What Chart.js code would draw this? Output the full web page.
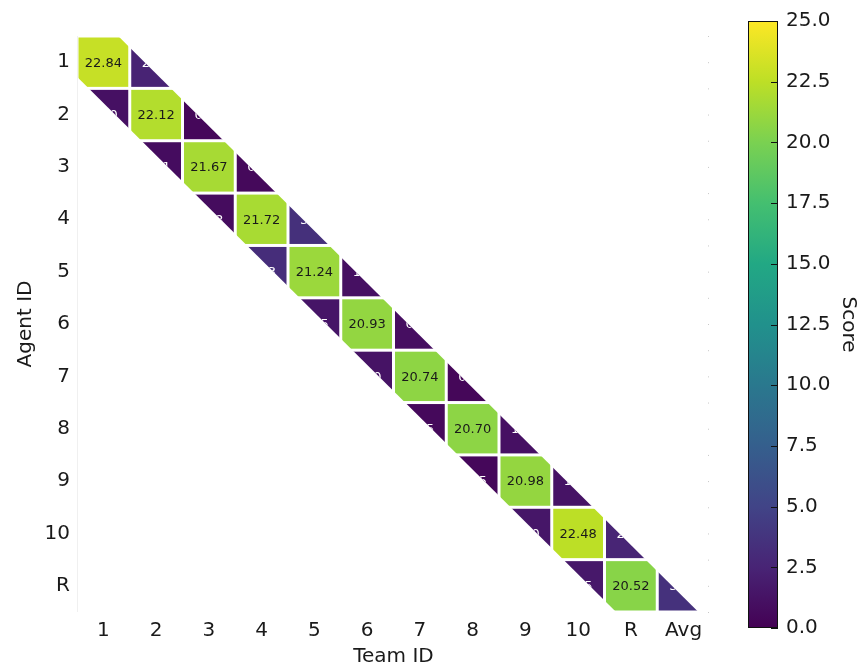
<!DOCTYPE html>
<html>
<head>
<meta charset="utf-8">
<script src="https://cdn.jsdelivr.net/npm/chart.js@4.4.1/dist/chart.umd.min.js"></script>
<style>
html, body { margin: 0; padding: 0; background: #fff; }
#wrap { position: relative; width: 862px; height: 669px; }
canvas { position: absolute; left: 0; top: 0; }
</style>
</head>
<body>
<div id="wrap">
  <canvas id="heat" width="862" height="669"></canvas>
  <canvas id="cbar" width="862" height="669"></canvas>
</div>
<script>
// tick labels
const teamLabels = ['1', '2', '3', '4', '5', '6', '7', '8', '9', '10', 'R', 'Avg'];
const agentLabels = ['1', '2', '3', '4', '5', '6', '7', '8', '9', '10', 'R'];
// agent i playing in its own team
const diagScores = [22.84, 22.12, 21.67, 21.72, 21.24, 20.93, 20.74, 20.70, 20.98, 22.48, 20.52];
// agent i in team i+1 (last one is the Avg column)
const upperScores = [2.45, 0.42, 0.55, 3.40, 1.05, 0.95, 0.40, 1.10, 1.25, 2.55, 3.50];
// agent i+1 in team i
const lowerScores = [1.10, 0.81, 0.78, 3.23, 1.45, 1.30, 0.55, 0.45, 1.50, 1.65];
const scoreTicks = [0, 2.5, 5, 7.5, 10, 12.5, 15, 17.5, 20, 22.5, 25];
const scoreMax = 25;

const viridisStops = ['#440154', '#482475', '#414487', '#355f8d', '#2a788e', '#21918c',
  '#22a884', '#44bf70', '#7ad151', '#bddf26', '#fde725'];

function hexRgb(h) {
  return [parseInt(h.slice(1, 3), 16), parseInt(h.slice(3, 5), 16), parseInt(h.slice(5, 7), 16)];
}

function viridis(t) {
  t = Math.max(0, Math.min(1, t));
  const p = t * 10;
  const i = Math.min(9, Math.floor(p));
  const f = p - i;
  const a = hexRgb(viridisStops[i]), b = hexRgb(viridisStops[i + 1]);
  const c = a.map((v, k) => Math.round(v + (b[k] - v) * f));
  return `rgb(${c[0]},${c[1]},${c[2]})`;
}

const cells = [];
diagScores.forEach((v, i) => cells.push({x: i + 1, y: i + 1, v: v}));
upperScores.forEach((v, i) => cells.push({x: i + 2, y: i + 1, v: v}));
lowerScores.forEach((v, i) => cells.push({x: i + 1, y: i + 2, v: v}));

const band = 0.78;
const gap = 1.5;
const font = 'DejaVu Sans';

const cellPlugin = {
  id: 'cells',
  afterDatasetsDraw(chart) {
    const {ctx, chartArea, scales: {x, y}} = chart;
    ctx.save();
    ctx.beginPath();
    ctx.rect(chartArea.left, chartArea.top, chartArea.width, chartArea.height);
    ctx.clip();
    // only a strip along the diagonal is shown
    ctx.beginPath();
    ctx.moveTo(x.getPixelForValue(0.5 + band), y.getPixelForValue(0.5));
    ctx.lineTo(x.getPixelForValue(11.5 + band), y.getPixelForValue(11.5));
    ctx.lineTo(x.getPixelForValue(11.5 - band), y.getPixelForValue(11.5));
    ctx.lineTo(x.getPixelForValue(0.5 - band), y.getPixelForValue(0.5));
    ctx.closePath();
    ctx.clip();
    ctx.textAlign = 'center';
    ctx.textBaseline = 'middle';
    ctx.font = `13px "${font}"`;
    chart.data.datasets[0].data.forEach(p => {
      const xa = x.getPixelForValue(p.x - 0.5), xb = x.getPixelForValue(p.x + 0.5);
      const ya = y.getPixelForValue(p.y - 0.5), yb = y.getPixelForValue(p.y + 0.5);
      const left = Math.min(xa, xb), top = Math.min(ya, yb);
      const w = Math.abs(xb - xa), h = Math.abs(yb - ya);
      ctx.fillStyle = viridis(p.v / scoreMax);
      ctx.fillRect(left + gap, top + gap, w - 2 * gap, h - 2 * gap);
      ctx.fillStyle = p.v > scoreMax / 2 ? '#1a1a1a' : '#ffffff';
      ctx.fillText(p.v.toFixed(2), left + w / 2, top + h / 2 + 1);
    });
    ctx.restore();

    // faint frame bits
    ctx.save();
    ctx.fillStyle = '#c8c8c8';
    for (let v = 0.5; v <= 11.5; v += 0.5) {
      ctx.fillRect(chartArea.right - 2, y.getPixelForValue(v), 1, 1);
    }
    ctx.strokeStyle = '#f0f0f0';
    ctx.beginPath();
    ctx.moveTo(chartArea.left + 0.5, chartArea.top);
    ctx.lineTo(chartArea.left + 0.5, chartArea.bottom);
    ctx.stroke();
    ctx.restore();
  }
};

new Chart(document.getElementById('heat'), {
  type: 'scatter',
  data: {
    datasets: [{data: cells, pointRadius: 0, pointHoverRadius: 0}]
  },
  options: {
    responsive: false,
    animation: false,
    events: [],
    layout: {padding: {left: 0, right: 152, top: 36, bottom: 0}},
    plugins: {legend: {display: false}, tooltip: {enabled: false}},
    scales: {
      x: {
        type: 'linear', min: 0.5, max: 12.5,
        afterBuildTicks: s => { s.ticks = teamLabels.map((_, i) => ({value: i + 1})); },
        afterFit: s => { s.height = 57; },
        ticks: {
          autoSkip: false, maxRotation: 0, padding: 7, color: '#1a1a1a',
          font: {family: font, size: 20},
          callback: v => teamLabels[v - 1]
        },
        grid: {display: false, drawTicks: false},
        border: {display: false},
        title: {display: true, text: 'Team ID', color: '#1a1a1a',
          font: {family: font, size: 20}, padding: {top: 0, bottom: 0}}
      },
      y: {
        type: 'linear', min: 0.5, max: 11.5, reverse: true,
        afterBuildTicks: s => { s.ticks = agentLabels.map((_, i) => ({value: i + 1})); },
        afterFit: s => { s.width = 77; },
        ticks: {
          autoSkip: false, padding: 7, color: '#1a1a1a',
          font: {family: font, size: 20},
          callback: v => agentLabels[v - 1]
        },
        grid: {display: false, drawTicks: false},
        border: {display: false},
        title: {display: true, text: 'Agent ID', color: '#1a1a1a',
          font: {family: font, size: 20}, padding: {top: 14, bottom: 0}}
      }
    }
  },
  plugins: [cellPlugin]
});

const barPlugin = {
  id: 'colorbar',
  afterDraw(chart) {
    const {ctx, chartArea: a, scales: {y}} = chart;
    const g = ctx.createLinearGradient(0, y.getPixelForValue(0), 0, y.getPixelForValue(scoreMax));
    viridisStops.forEach((c, i) => g.addColorStop(i / 10, c));
    ctx.save();
    ctx.fillStyle = g;
    ctx.fillRect(a.left, a.top, a.width, a.height);
    ctx.strokeStyle = '#111';
    ctx.lineWidth = 1;
    ctx.strokeRect(a.left + 0.5, a.top + 0.5, a.width - 1, a.height - 1);
    ctx.beginPath();
    scoreTicks.forEach(v => {
      const py = Math.round(y.getPixelForValue(v)) + 0.5;
      ctx.moveTo(a.right - 7, py);
      ctx.lineTo(a.right, py);
    });
    ctx.stroke();
    ctx.restore();
  }
};

new Chart(document.getElementById('cbar'), {
  type: 'scatter',
  data: {datasets: []},
  options: {
    responsive: false,
    animation: false,
    events: [],
    layout: {padding: {left: 748, right: 0, top: 21, bottom: 41}},
    plugins: {legend: {display: false}, tooltip: {enabled: false}},
    scales: {
      x: {display: false, min: 0, max: 1},
      y: {
        position: 'right', min: 0, max: scoreMax,
        afterBuildTicks: s => { s.ticks = scoreTicks.map(v => ({value: v})); },
        afterFit: s => { s.width = 84; },
        ticks: {
          padding: 8, color: '#1a1a1a', font: {family: font, size: 20},
          callback: v => v.toFixed(1)
        },
        grid: {display: false, drawTicks: false},
        border: {display: false},
        title: {display: true, text: 'Score', color: '#1a1a1a',
          font: {family: font, size: 20}, padding: {top: 2, bottom: 0}}
      }
    }
  },
  plugins: [barPlugin]
});
</script>
</body>
</html>
